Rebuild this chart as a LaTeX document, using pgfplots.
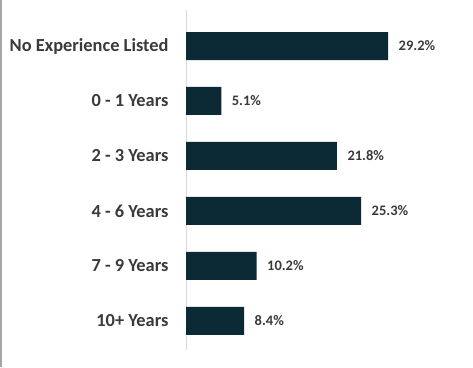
\documentclass[border=0pt]{standalone}
\usepackage{pgfplots}
\pgfplotsset{compat=1.18}
\usepackage{fontspec}
\setmainfont{Carlito}
\definecolor{barc}{HTML}{0C2A35}
\definecolor{txt}{HTML}{3A3A3A}
\begin{document}
\begin{tikzpicture}[x=1pt,y=1pt]
\useasboundingbox (0,0) rectangle (473,367);
\draw[gray!70,line width=1.5pt] (0.75,0) -- (0.75,367);
\begin{axis}[
  at={(186pt,17pt)}, anchor=south west,
  scale only axis, width=277pt, height=340pt,
  xbar, bar width=28pt,
  xmin=0, xmax=40, ymin=-0.53, ymax=5.655,
  axis x line=none,
  axis y line*=left,
  y axis line style={draw=gray!30, line width=0.8pt},
  ytick={0,1,2,3,4,5},
  yticklabels={10+ Years,7 - 9 Years,4 - 6 Years,2 - 3 Years,0 - 1 Years,No Experience Listed},
  yticklabel style={font=\fontsize{18.4}{20}\selectfont\bfseries, text=txt, xshift=-14pt},
  major tick length=0pt,
  point meta=explicit symbolic,
  nodes near coords,
  nodes near coords style={font=\fontsize{14.5}{16}\selectfont\bfseries, text=txt, anchor=west, xshift=7pt},
]
\addplot[fill=barc, draw=none] coordinates {
 (8.4,0) [8.4\%]
 (10.2,1) [10.2\%]
 (25.3,2) [25.3\%]
 (21.8,3) [21.8\%]
 (5.1,4) [5.1\%]
 (29.2,5) [29.2\%]
};
\end{axis}
\end{tikzpicture}
\end{document}
